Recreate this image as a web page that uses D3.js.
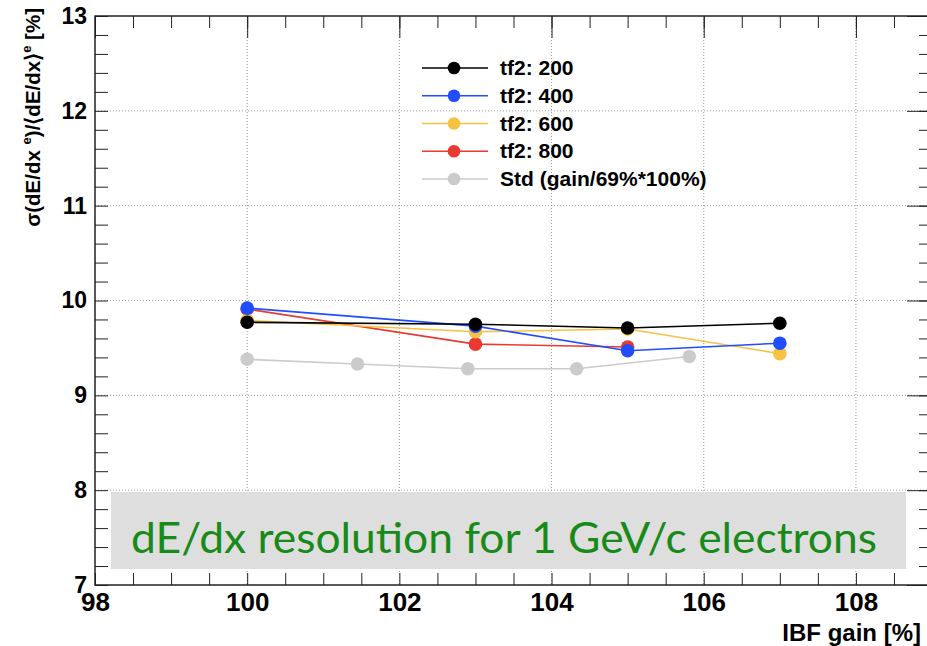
<!DOCTYPE html>
<html>
<head>
<meta charset="utf-8">
<script src="https://cdn.jsdelivr.net/npm/d3@7"></script>
<style>
  body { margin: 0; background: #fff; }
  svg { display: block; font-family: "Liberation Sans", Arial, sans-serif; }
</style>
</head>
<body>
<svg id="chart" width="927" height="646"></svg>
<script>
// IBF gain values for the tf2 scans
const gains = [100, 103, 105, 107]
const gains800 = [100, 103, 105]
// dE/dx resolution [%]
const tf200 = [9.77, 9.75, 9.71, 9.76]
const tf400 = [9.92, 9.73, 9.47, 9.55]
const tf600 = [9.79, 9.67, 9.70, 9.44]
const tf800 = [9.91, 9.54, 9.51]
// standard setting, gain scaled by 69%
const stdGain = [100, 101.45, 102.9, 104.33, 105.81]
const stdRes = [9.38, 9.33, 9.28, 9.28, 9.41]

const xTicks = [98, 100, 102, 104, 106, 108]
const yTicks = [7, 8, 9, 10, 11, 12, 13]

const series = [
  { name: 'tf2: 200', x: gains, y: tf200, color: '#000000' },
  { name: 'tf2: 400', x: gains, y: tf400, color: '#1f4dff' },
  { name: 'tf2: 600', x: gains, y: tf600, color: '#f5c242' },
  { name: 'tf2: 800', x: gains800, y: tf800, color: '#e93a30' },
  { name: 'Std (gain/69%*100%)', x: stdGain, y: stdRes, color: '#cbcbcb' }
]

const frame = { left: 95, top: 16, right: 932, bottom: 585 }

const x = d3.scaleLinear().domain([98, 109]).range([frame.left, frame.right])
const y = d3.scaleLinear().domain([7, 13]).range([frame.bottom, frame.top])

const svg = d3.select('#chart')

// grid
const grid = svg.append('g').attr('stroke', '#9a9a9a').attr('stroke-width', 1)
  .attr('stroke-dasharray', '1,2')
grid.selectAll('.gx').data(xTicks.slice(1)).join('line')
  .attr('x1', d => x(d)).attr('x2', d => x(d))
  .attr('y1', frame.top).attr('y2', frame.bottom)
grid.selectAll('.gy').data(yTicks.slice(1, -1)).join('line')
  .attr('y1', d => y(d)).attr('y2', d => y(d))
  .attr('x1', frame.left).attr('x2', frame.right)

// banner
svg.append('rect')
  .attr('x', 111).attr('y', 492).attr('width', 795).attr('height', 77)
  .attr('fill', '#dedede')

// inward ticks
const xMinor = d3.range(98, 109.01, 0.5)
const yMinor = d3.range(7, 13.01, 0.2)
const tickStyle = g => { g.select('.domain').remove(); g.selectAll('line').attr('stroke', '#222'); }

svg.append('g').attr('transform', `translate(0,${frame.bottom})`)
  .call(d3.axisTop(x).tickValues(xMinor).tickSize(12).tickFormat('')).call(tickStyle)
svg.append('g').attr('transform', `translate(0,${frame.top})`)
  .call(d3.axisBottom(x).tickValues(xMinor).tickSize(12).tickFormat('')).call(tickStyle)
svg.append('g').attr('transform', `translate(0,${frame.top})`)
  .call(d3.axisBottom(x).tickValues(xTicks).tickSize(22).tickFormat('')).call(tickStyle)
svg.append('g').attr('transform', `translate(${frame.left},0)`)
  .call(d3.axisRight(y).tickValues(yMinor).tickSize(13).tickFormat('')).call(tickStyle)
svg.append('g').attr('transform', `translate(${frame.right},0)`)
  .call(d3.axisLeft(y).tickValues(yMinor).tickSize(13).tickFormat('')).call(tickStyle)
svg.append('g').attr('transform', `translate(${frame.right},0)`)
  .call(d3.axisLeft(y).tickValues(yTicks).tickSize(25).tickFormat('')).call(tickStyle)

// frame
svg.append('rect')
  .attr('x', frame.left).attr('y', frame.top)
  .attr('width', frame.right - frame.left).attr('height', frame.bottom - frame.top)
  .attr('fill', 'none').attr('stroke', '#222').attr('stroke-width', 1.5)

// tick labels
const xLab = svg.append('g').attr('transform', `translate(0,${frame.bottom})`)
  .call(d3.axisBottom(x).tickValues(xTicks).tickSize(0).tickPadding(8).tickFormat(d3.format('d')))
xLab.select('.domain').remove()
xLab.selectAll('text').attr('fill', '#000')
  .style('font-family', '"Liberation Sans Narrow", "Liberation Sans", Arial, sans-serif')
  .style('font-size', '26px').style('font-weight', 'bold')

const yLab = svg.append('g').attr('transform', `translate(${frame.left},0)`)
  .call(d3.axisLeft(y).tickValues(yTicks).tickSize(0).tickPadding(8).tickFormat(d3.format('d')))
yLab.select('.domain').remove()
yLab.selectAll('text').attr('fill', '#000')
  .style('font-family', '"Liberation Sans", Arial, sans-serif')
  .style('font-size', '23px').style('font-weight', 'bold')

// axis titles
svg.append('text')
  .attr('x', 921).attr('y', 641).attr('text-anchor', 'end')
  .style('font-size', '24px').style('font-weight', 'bold')
  .text('IBF gain [%]')

const yTitle = svg.append('text')
  .attr('transform', 'translate(40,8) rotate(-90)')
  .attr('text-anchor', 'end').style('font-size', '20.5px').style('font-weight', 'bold')
yTitle.append('tspan').text('σ(dE/dx ')
yTitle.append('tspan').style('font-size', '13px').attr('dy', -9).text('e')
yTitle.append('tspan').attr('dy', 9).text(')/⟨dE/dx⟩')
yTitle.append('tspan').style('font-size', '13px').attr('dy', -9).text('e')
yTitle.append('tspan').attr('dy', 9).text(' [%]')

// series
const line = d3.line().x(d => x(d[0])).y(d => y(d[1]))
series.slice().reverse().forEach(s => {
  const pts = s.x.map((v, i) => [v, s.y[i]])
  const g = svg.append('g')
  g.append('path').datum(pts).attr('d', line)
    .attr('fill', 'none').attr('stroke', s.color).attr('stroke-width', 1.6)
  g.selectAll('circle').data(pts).join('circle')
    .attr('cx', d => x(d[0])).attr('cy', d => y(d[1])).attr('r', 6.8)
    .attr('fill', s.color)
})

// legend
const legendRow = d3.scalePoint().domain(series.map(s => s.name)).range([68, 179])
const legend = svg.append('g')
series.forEach(s => {
  const ly = legendRow(s.name)
  legend.append('line').attr('x1', 422).attr('x2', 488).attr('y1', ly).attr('y2', ly)
    .attr('stroke', s.color).attr('stroke-width', 1.6)
  legend.append('circle').attr('cx', 454).attr('cy', ly).attr('r', 6.3).attr('fill', s.color)
  legend.append('text').attr('x', 500).attr('y', ly + 7)
    .style('font-size', '21px').style('font-weight', 'bold').text(s.name)
})

// annotation
svg.append('text')
  .attr('x', 131).attr('y', 553)
  .style('font-family', 'Lato, "Open Sans", sans-serif').style('font-size', '42px')
  .attr('fill', '#178a17')
  .attr('textLength', 746).attr('lengthAdjust', 'spacingAndGlyphs')
  .text('dE/dx resolution for 1 GeV/c electrons')
</script>
</body>
</html>
